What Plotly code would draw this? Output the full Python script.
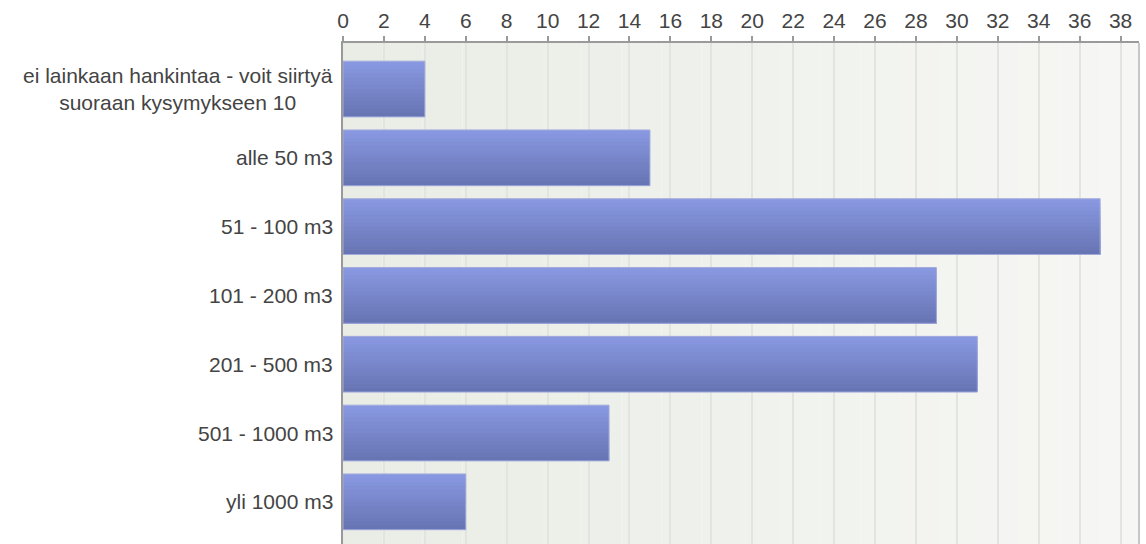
import plotly.graph_objects as go

categories = [
    "ei lainkaan hankintaa - voit siirtyä<br>suoraan kysymykseen 10",
    "alle 50 m3",
    "51 - 100 m3",
    "101 - 200 m3",
    "201 - 500 m3",
    "501 - 1000 m3",
    "yli 1000 m3",
]
values = [4, 15, 37, 29, 31, 13, 6]

FONT = "Liberation Sans, Arial, sans-serif"
TEXT_COLOR = "#444444"
BAR_W = 0.81
N_STRIPS = 14
top_rgb = (0x88, 0x98, 0xE0)
bot_rgb = (0x68, 0x75, 0xB4)

fig = go.Figure()

# gradient bars: overlapping strips from top to bottom
for k in range(N_STRIPS):
    t = k / (N_STRIPS - 1)
    c = tuple(round(top_rgb[i] + (bot_rgb[i] - top_rgb[i]) * t) for i in range(3))
    fig.add_trace(go.Bar(
        x=values, y=categories, orientation="h",
        width=BAR_W - k * BAR_W / N_STRIPS,
        offset=-BAR_W / 2 + k * BAR_W / N_STRIPS,
        marker=dict(color="rgb(%d,%d,%d)" % c, line=dict(width=0)),
        hoverinfo="skip", showlegend=False,
    ))
# outline
fig.add_trace(go.Bar(
    x=values, y=categories, orientation="h",
    width=BAR_W, offset=-BAR_W / 2,
    marker=dict(color="rgba(0,0,0,0)", line=dict(width=1, color="#a3abdc")),
    hoverinfo="skip", showlegend=False,
))

# background gradient bands (light grey-green to near white)
shapes = []
NB = 20
left_rgb = (0xE9, 0xED, 0xE5)
right_rgb = (0xF6, 0xF7, 0xF4)
for b in range(NB):
    t = b / (NB - 1)
    c = tuple(round(left_rgb[i] + (right_rgb[i] - left_rgb[i]) * t) for i in range(3))
    shapes.append(dict(type="rect", xref="paper", yref="paper",
                       x0=b / NB, x1=(b + 1) / NB, y0=0, y1=1,
                       fillcolor="rgb(%d,%d,%d)" % c, line=dict(width=0),
                       layer="below"))
# right border of the plot area
shapes.append(dict(type="line", xref="paper", yref="paper",
                   x0=1, x1=1, y0=0, y1=1,
                   line=dict(color="#c6c6c6", width=2), layer="above"))

annotations = [
    dict(x=0, y=cat, xref="x", yref="y", text=cat, showarrow=False,
         xanchor="right", yanchor="middle", align="center", xshift=-8,
         font=dict(family=FONT, size=21, color=TEXT_COLOR))
    for cat in categories
]

fig.update_layout(
    width=1146, height=544,
    margin=dict(l=343, r=7, t=43, b=0),
    paper_bgcolor="white",
    plot_bgcolor="rgba(0,0,0,0)",
    barmode="overlay",
    shapes=shapes,
    annotations=annotations,
    font=dict(family=FONT, size=21, color=TEXT_COLOR),
    xaxis=dict(
        side="top", range=[0, 38.9], tick0=0, dtick=2,
        ticks="outside", ticklen=5, tickcolor="#999999", tickwidth=1.5,
        showline=True, linecolor="#9a9a9a", linewidth=2,
        showgrid=True, gridcolor="#e2e4df", gridwidth=2,
        zeroline=False, fixedrange=True,
        tickfont=dict(family=FONT, size=21, color=TEXT_COLOR),
    ),
    yaxis=dict(
        type="category", categoryorder="array", categoryarray=categories,
        range=[6.613, -0.669],
        showticklabels=False, ticks="",
        showline=True, linecolor="#999999", linewidth=2, mirror=False,
        showgrid=False, zeroline=False, fixedrange=True,
    ),
)

fig.write_html("out.html")
